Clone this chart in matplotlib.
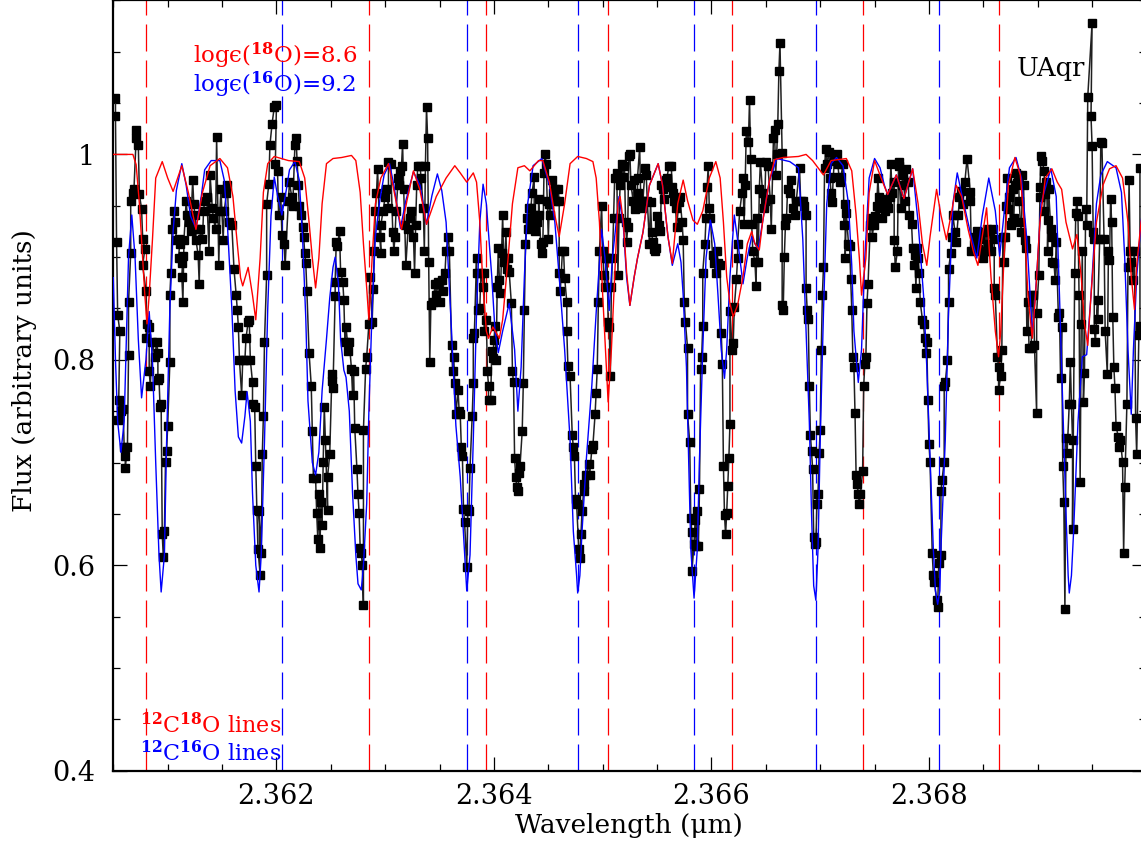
import numpy as np
import matplotlib
matplotlib.use("Agg")
import matplotlib.pyplot as plt
from matplotlib.ticker import MultipleLocator, FixedLocator, FixedFormatter

plt.rcParams['font.family'] = ['DejaVu Serif', 'DejaVu Sans']
plt.rcParams['mathtext.fontset'] = 'dejavuserif'

obs_wave_a = [2.36052, 2.36052, 2.36053, 2.36054, 2.36056, 2.36055, 2.36054, 2.36057, 2.36059, 2.36060,
              2.36061, 2.36061, 2.36063, 2.36064, 2.36064, 2.36066, 2.36066, 2.36068, 2.36069, 2.36071,
              2.36071, 2.36073, 2.36074, 2.36076, 2.36077, 2.36079, 2.36077, 2.36080, 2.36081, 2.36080,
              2.36083, 2.36083, 2.36084, 2.36086, 2.36088, 2.36090, 2.36091, 2.36091, 2.36092, 2.36093,
              2.36094, 2.36095, 2.36096, 2.36097, 2.36098, 2.36099, 2.36100, 2.36102, 2.36102, 2.36103,
              2.36104, 2.36106, 2.36107, 2.36108, 2.36110, 2.36111, 2.36110, 2.36113, 2.36114, 2.36113,
              2.36114, 2.36115, 2.36117, 2.36118, 2.36120, 2.36121, 2.36123, 2.36124, 2.36125, 2.36126,
              2.36126, 2.36128, 2.36129, 2.36130, 2.36132, 2.36133, 2.36134, 2.36136, 2.36138, 2.36139,
              2.36141, 2.36142, 2.36144, 2.36145, 2.36147, 2.36148, 2.36149, 2.36151, 2.36152, 2.36154,
              2.36155, 2.36156, 2.36159, 2.36161, 2.36163, 2.36164, 2.36165, 2.36166, 2.36168, 2.36169,
              2.36171, 2.36172, 2.36174, 2.36175, 2.36176, 2.36178, 2.36178, 2.36180, 2.36181, 2.36182,
              2.36183, 2.36185, 2.36184, 2.36186, 2.36187, 2.36188, 2.36189, 2.36191, 2.36191, 2.36193,
              2.36194, 2.36196, 2.36198, 2.36200, 2.36199, 2.36201, 2.36202, 2.36204, 2.36205, 2.36207,
              2.36208]
obs_flux_a = [1.055, 1.037, 0.915, 0.844, 0.828, 0.761, 0.741, 0.750, 0.752, 0.715,
              0.706, 0.695, 0.715, 0.805, 0.856, 0.904, 0.955, 0.962, 0.966, 1.016,
              1.024, 1.009, 0.961, 0.947, 0.918, 0.908, 0.892, 0.867, 0.835, 0.821,
              0.832, 0.789, 0.775, 0.817, 0.803, 0.817, 0.807, 0.780, 0.782, 0.754,
              0.757, 0.630, 0.608, 0.633, 0.701, 0.711, 0.736, 0.798, 0.863, 0.885,
              0.927, 0.945, 0.934, 0.917, 0.918, 0.913, 0.899, 0.894, 0.901, 0.881,
              0.856, 0.917, 0.955, 0.941, 0.934, 0.925, 0.975, 0.952, 0.941, 0.927,
              0.917, 0.902, 0.874, 0.927, 0.918, 0.945, 0.955, 0.959, 0.906, 0.980,
              0.948, 0.938, 0.927, 1.017, 0.892, 0.945, 0.966, 0.917, 0.945, 0.962,
              0.970, 0.934, 0.931, 0.888, 0.863, 0.849, 0.832, 0.800, 0.766, 0.800,
              0.800, 0.821, 0.837, 0.839, 0.800, 0.778, 0.757, 0.754, 0.697, 0.654,
              0.616, 0.591, 0.653, 0.612, 0.708, 0.745, 0.817, 0.883, 0.952, 0.971,
              1.009, 1.030, 1.046, 1.048, 0.991, 0.984, 0.941, 0.959, 0.922, 0.913,
              0.892]

obs_wave_b = [2.36211, 2.36212, 2.36214, 2.36215, 2.36217, 2.36218, 2.36219, 2.36220, 2.36221, 2.36223,
              2.36224, 2.36225, 2.36226, 2.36227, 2.36228, 2.36230, 2.36232, 2.36233, 2.36234, 2.36236,
              2.36237, 2.36238, 2.36239, 2.36240, 2.36241, 2.36242, 2.36243, 2.36244, 2.36245, 2.36247,
              2.36247, 2.36249, 2.36251, 2.36251, 2.36252, 2.36254, 2.36254, 2.36255, 2.36256, 2.36258,
              2.36259, 2.36261, 2.36262, 2.36263, 2.36264, 2.36266, 2.36267, 2.36269, 2.36270, 2.36271,
              2.36272, 2.36274, 2.36275, 2.36276, 2.36277, 2.36278, 2.36279, 2.36280, 2.36280, 2.36282,
              2.36283, 2.36285, 2.36286, 2.36288, 2.36289, 2.36290, 2.36291, 2.36292, 2.36293, 2.36295,
              2.36296, 2.36296, 2.36298, 2.36300, 2.36301, 2.36303, 2.36303, 2.36305, 2.36307, 2.36308,
              2.36309, 2.36310, 2.36312, 2.36313, 2.36314, 2.36315, 2.36316, 2.36317, 2.36318, 2.36319,
              2.36321, 2.36323, 2.36324, 2.36326, 2.36327, 2.36328, 2.36329, 2.36330, 2.36332, 2.36333,
              2.36335, 2.36336, 2.36337, 2.36338, 2.36339, 2.36340, 2.36341, 2.36342, 2.36344, 2.36346,
              2.36347, 2.36349, 2.36350, 2.36352, 2.36353, 2.36355, 2.36356, 2.36358, 2.36359, 2.36361,
              2.36362, 2.36363, 2.36364, 2.36365]
obs_flux_b = [0.955, 0.973, 0.959, 0.950, 1.009, 1.016, 0.994, 0.970, 0.950, 0.941,
              0.929, 0.920, 0.904, 0.894, 0.867, 0.807, 0.775, 0.731, 0.685, 0.685,
              0.651, 0.626, 0.669, 0.617, 0.662, 0.639, 0.701, 0.754, 0.722, 0.654,
              0.686, 0.708, 0.786, 0.779, 0.773, 0.862, 0.876, 0.915, 0.911, 0.925,
              0.886, 0.876, 0.858, 0.817, 0.832, 0.809, 0.817, 0.791, 0.766, 0.789,
              0.734, 0.694, 0.669, 0.651, 0.617, 0.612, 0.600, 0.561, 0.732, 0.791,
              0.803, 0.835, 0.881, 0.837, 0.869, 0.906, 0.945, 0.962, 0.986, 0.920,
              0.904, 0.931, 0.945, 0.959, 0.966, 0.948, 0.993, 0.991, 0.924, 0.906,
              0.920, 0.945, 0.977, 0.970, 0.984, 0.989, 1.010, 0.966, 0.931, 0.892,
              0.927, 0.938, 0.945, 0.920, 0.885, 0.931, 0.970, 0.989, 0.989, 0.977,
              0.948, 0.906, 0.989, 1.046, 1.016, 0.895, 0.798, 0.853, 0.856, 0.874,
              0.863, 0.876, 0.856, 0.878, 0.867, 0.885, 0.906, 0.920, 0.906, 0.814,
              0.789, 0.803, 0.777, 0.747]

obs_wave_c = [2.36367, 2.36368, 2.36369, 2.36370, 2.36371, 2.36372, 2.36373, 2.36375, 2.36376, 2.36377,
              2.36378, 2.36380, 2.36381, 2.36381, 2.36382, 2.36384, 2.36384, 2.36385, 2.36387, 2.36388,
              2.36390, 2.36391, 2.36391, 2.36393, 2.36394, 2.36395, 2.36395, 2.36397, 2.36398, 2.36399,
              2.36400, 2.36401, 2.36402, 2.36403, 2.36404, 2.36405, 2.36406, 2.36407, 2.36408, 2.36409,
              2.36410, 2.36411, 2.36412, 2.36413, 2.36414, 2.36416, 2.36417, 2.36418, 2.36419, 2.36420,
              2.36421, 2.36422, 2.36423, 2.36424, 2.36426, 2.36427, 2.36428, 2.36429, 2.36430, 2.36431,
              2.36432, 2.36434, 2.36434, 2.36435, 2.36437, 2.36437, 2.36438, 2.36440, 2.36441, 2.36441,
              2.36443, 2.36444, 2.36445, 2.36446, 2.36447, 2.36448, 2.36449, 2.36450, 2.36451, 2.36452,
              2.36453, 2.36454, 2.36456, 2.36457, 2.36459, 2.36460, 2.36460, 2.36461, 2.36463, 2.36464,
              2.36465, 2.36467, 2.36467, 2.36468, 2.36470, 2.36472, 2.36473, 2.36474, 2.36475, 2.36476,
              2.36478, 2.36479, 2.36480, 2.36481, 2.36483, 2.36483, 2.36485, 2.36487, 2.36488, 2.36490,
              2.36491, 2.36493, 2.36494, 2.36495, 2.36496, 2.36497, 2.36499, 2.36500, 2.36501, 2.36502,
              2.36503, 2.36504, 2.36505, 2.36506, 2.36507, 2.36508, 2.36509, 2.36510, 2.36511, 2.36513,
              2.36514, 2.36515, 2.36516, 2.36518, 2.36519, 2.36520, 2.36521, 2.36522]
obs_flux_c = [0.771, 0.750, 0.747, 0.715, 0.706, 0.655, 0.642, 0.598, 0.655, 0.653,
              0.695, 0.745, 0.777, 0.821, 0.826, 0.899, 0.885, 0.849, 0.850, 0.885,
              0.871, 0.885, 0.828, 0.839, 0.789, 0.775, 0.761, 0.761, 0.809, 0.802,
              0.819, 0.833, 0.800, 0.871, 0.909, 0.878, 0.865, 0.904, 0.941, 0.895,
              0.899, 0.924, 0.888, 0.899, 0.886, 0.855, 0.789, 0.778, 0.704, 0.686,
              0.676, 0.672, 0.690, 0.697, 0.731, 0.777, 0.849, 0.913, 0.938, 0.927,
              0.948, 0.934, 0.948, 0.962, 0.978, 0.941, 0.925, 0.934, 0.941, 0.957,
              0.913, 0.904, 0.915, 0.982, 1.000, 0.991, 0.955, 0.918, 0.952, 0.941,
              0.975, 0.962, 0.966, 0.955, 0.966, 0.955, 0.885, 0.867, 0.906, 0.906,
              0.880, 0.856, 0.828, 0.794, 0.784, 0.727, 0.715, 0.706, 0.665, 0.660,
              0.616, 0.607, 0.630, 0.653, 0.679, 0.672, 0.688, 0.699, 0.688, 0.713,
              0.717, 0.747, 0.768, 0.791, 0.856, 0.906, 0.950, 0.906, 0.883, 0.871,
              0.899, 0.899, 0.837, 0.832, 0.784, 0.871, 0.899, 0.938, 0.977, 0.982,
              0.883, 0.938, 0.970, 0.991, 0.978, 0.989, 0.934, 0.915]

obs_wave_d = [2.36523, 2.36524, 2.36525, 2.36526, 2.36528, 2.36529, 2.36530, 2.36532, 2.36532, 2.36534,
              2.36535, 2.36536, 2.36537, 2.36539, 2.36540, 2.36541, 2.36543, 2.36544, 2.36545, 2.36546,
              2.36547, 2.36548, 2.36549, 2.36550, 2.36552, 2.36553, 2.36554, 2.36555, 2.36556, 2.36558,
              2.36559, 2.36561, 2.36563, 2.36564, 2.36565, 2.36566, 2.36567, 2.36568, 2.36570, 2.36571,
              2.36573, 2.36574, 2.36575, 2.36576, 2.36578, 2.36578, 2.36580, 2.36581, 2.36582, 2.36582,
              2.36584, 2.36585, 2.36586, 2.36587, 2.36588, 2.36589, 2.36590, 2.36591, 2.36592, 2.36592,
              2.36594, 2.36595, 2.36596, 2.36597, 2.36598, 2.36599, 2.36601, 2.36602, 2.36604, 2.36605,
              2.36606, 2.36608, 2.36609, 2.36610, 2.36611, 2.36612, 2.36613, 2.36614, 2.36615, 2.36616,
              2.36617, 2.36617, 2.36619, 2.36620, 2.36621, 2.36623, 2.36624, 2.36624, 2.36626, 2.36628,
              2.36629, 2.36630, 2.36631, 2.36632, 2.36634, 2.36635, 2.36636, 2.36637, 2.36638, 2.36640,
              2.36641, 2.36642, 2.36643, 2.36644, 2.36645, 2.36647, 2.36648, 2.36649, 2.36650, 2.36652,
              2.36654, 2.36655, 2.36657, 2.36658, 2.36659, 2.36660, 2.36661, 2.36662, 2.36663, 2.36665,
              2.36665, 2.36666, 2.36667, 2.36668, 2.36669, 2.36670, 2.36672, 2.36673, 2.36675, 2.36677,
              2.36678]
obs_flux_d = [0.929, 0.998, 1.000, 0.970, 0.955, 0.975, 0.947, 0.962, 0.977, 1.007,
              0.955, 0.948, 0.955, 0.987, 0.980, 0.955, 0.913, 0.954, 0.924, 0.915,
              0.908, 0.906, 0.909, 0.940, 0.931, 0.925, 0.970, 0.966, 0.957, 0.975,
              0.977, 0.989, 0.989, 0.968, 0.962, 0.955, 0.948, 0.929, 0.954, 0.959,
              0.934, 0.917, 0.856, 0.837, 0.812, 0.747, 0.720, 0.646, 0.632, 0.594,
              0.621, 0.644, 0.619, 0.653, 0.619, 0.674, 0.791, 0.803, 0.833, 0.885,
              0.913, 0.938, 0.968, 0.989, 0.948, 0.938, 0.902, 0.894, 0.885, 0.906,
              0.894, 0.892, 0.826, 0.796, 0.697, 0.649, 0.630, 0.651, 0.677, 0.704,
              0.738, 0.848, 0.810, 0.816, 0.851, 0.879, 0.899, 0.913, 0.945, 0.962,
              0.977, 0.932, 0.970, 1.023, 1.012, 1.053, 0.996, 0.932, 0.906, 0.895,
              0.872, 0.938, 0.895, 0.966, 0.993, 0.962, 0.948, 0.955, 0.993, 0.989,
              0.957, 0.927, 1.016, 1.024, 0.980, 1.000, 1.030, 1.081, 1.108, 1.001,
              0.853, 0.849, 0.900, 0.931, 0.938, 0.966, 0.962, 0.975, 0.948, 0.941,
              0.955]

obs_wave_e = [2.36681, 2.36682, 2.36684, 2.36685, 2.36687, 2.36687, 2.36688, 2.36689, 2.36690, 2.36691,
              2.36692, 2.36693, 2.36694, 2.36695, 2.36696, 2.36697, 2.36698, 2.36699, 2.36700, 2.36701,
              2.36702, 2.36703, 2.36704, 2.36705, 2.36706, 2.36708, 2.36709, 2.36710, 2.36711, 2.36712,
              2.36713, 2.36715, 2.36716, 2.36718, 2.36719, 2.36721, 2.36722, 2.36723, 2.36723, 2.36724,
              2.36726, 2.36727, 2.36728, 2.36729, 2.36730, 2.36731, 2.36732, 2.36733, 2.36734, 2.36735,
              2.36736, 2.36737, 2.36739, 2.36740, 2.36741, 2.36742, 2.36743, 2.36744, 2.36746, 2.36747,
              2.36748, 2.36749, 2.36750, 2.36752, 2.36753, 2.36754, 2.36755, 2.36756, 2.36757, 2.36758,
              2.36760, 2.36761, 2.36762, 2.36764, 2.36765, 2.36766, 2.36768, 2.36768, 2.36769, 2.36771,
              2.36772, 2.36772, 2.36774, 2.36775, 2.36776, 2.36778, 2.36779, 2.36781, 2.36782, 2.36784,
              2.36785, 2.36786, 2.36787, 2.36788, 2.36789, 2.36790, 2.36791, 2.36792, 2.36794, 2.36795,
              2.36796, 2.36797, 2.36798, 2.36799, 2.36800, 2.36801, 2.36803, 2.36804, 2.36805, 2.36807,
              2.36808, 2.36809, 2.36811, 2.36811, 2.36812, 2.36814, 2.36814, 2.36815, 2.36817, 2.36818,
              2.36818, 2.36820, 2.36821, 2.36822, 2.36824, 2.36825, 2.36827, 2.36828, 2.36829, 2.36831,
              2.36833, 2.36835]
obs_flux_e = [0.987, 0.955, 0.955, 0.950, 0.941, 0.870, 0.849, 0.840, 0.775, 0.727,
              0.711, 0.694, 0.628, 0.621, 0.623, 0.660, 0.669, 0.709, 0.732, 0.810,
              0.863, 0.890, 0.987, 1.005, 0.991, 1.002, 0.977, 0.962, 0.954, 0.978,
              0.994, 1.000, 0.991, 0.973, 0.978, 0.991, 0.931, 0.952, 0.899, 0.943,
              0.913, 0.911, 0.879, 0.849, 0.803, 0.793, 0.748, 0.688, 0.679, 0.669,
              0.660, 0.669, 0.692, 0.775, 0.796, 0.803, 0.855, 0.874, 0.931, 0.938,
              0.920, 0.931, 0.940, 0.950, 0.977, 0.959, 0.948, 0.957, 0.938, 0.955,
              0.945, 0.950, 0.948, 0.959, 0.991, 0.962, 0.973, 0.917, 0.890, 0.906,
              0.993, 0.989, 0.948, 0.970, 0.980, 0.955, 0.986, 0.973, 0.941, 0.932,
              0.909, 0.892, 0.902, 0.870, 0.909, 0.899, 0.885, 0.856, 0.839, 0.835,
              0.821, 0.807, 0.817, 0.761, 0.718, 0.701, 0.612, 0.591, 0.584, 0.566,
              0.559, 0.602, 0.610, 0.672, 0.683, 0.701, 0.775, 0.778, 0.800, 0.856,
              0.888, 0.904, 0.920, 0.941, 0.924, 0.915, 0.941, 0.959, 0.964, 0.952,
              0.973, 0.996]

obs_wave_f = [2.36838, 2.36838, 2.36839, 2.36841, 2.36842, 2.36844, 2.36844, 2.36845, 2.36847, 2.36848,
              2.36850, 2.36851, 2.36852, 2.36853, 2.36854, 2.36856, 2.36857, 2.36859, 2.36860, 2.36860,
              2.36861, 2.36863, 2.36864, 2.36864, 2.36866, 2.36867, 2.36868, 2.36869, 2.36870, 2.36871,
              2.36872, 2.36873, 2.36874, 2.36875, 2.36876, 2.36877, 2.36878, 2.36879, 2.36880, 2.36881,
              2.36882, 2.36883, 2.36884, 2.36885, 2.36886, 2.36887, 2.36888, 2.36889, 2.36890, 2.36891,
              2.36892, 2.36894, 2.36895, 2.36896, 2.36897, 2.36899, 2.36899, 2.36901, 2.36902, 2.36902,
              2.36903, 2.36904, 2.36906, 2.36906, 2.36907, 2.36908, 2.36909, 2.36909, 2.36910, 2.36912,
              2.36913, 2.36913, 2.36915, 2.36916, 2.36917, 2.36919, 2.36920, 2.36921, 2.36922, 2.36923,
              2.36924, 2.36925, 2.36926, 2.36927, 2.36929, 2.36930, 2.36931, 2.36932, 2.36932, 2.36934,
              2.36935, 2.36936, 2.36937, 2.36938, 2.36939, 2.36940, 2.36941, 2.36942, 2.36943, 2.36944,
              2.36945, 2.36946, 2.36950, 2.36949, 2.36950, 2.36951, 2.36952, 2.36952, 2.36953, 2.36955,
              2.36955, 2.36957, 2.36958, 2.36959, 2.36961, 2.36962, 2.36964, 2.36965, 2.36966, 2.36967,
              2.36968, 2.36969, 2.36970, 2.36971, 2.36972, 2.36974, 2.36975, 2.36976, 2.36978, 2.36979,
              2.36980, 2.36982, 2.36983, 2.36984, 2.36985, 2.36986, 2.36988, 2.36989, 2.36990, 2.36991,
              2.36993, 2.36994, 2.36994]
obs_flux_f = [0.963, 0.955, 0.906, 0.913, 0.920, 0.925, 0.913, 0.908, 0.918, 0.906,
              0.899, 0.924, 0.906, 0.927, 0.913, 0.925, 0.906, 0.927, 0.918, 0.870,
              0.863, 0.803, 0.793, 0.771, 0.784, 0.810, 0.920, 0.895, 0.920, 0.950,
              0.977, 0.947, 0.959, 0.931, 0.934, 0.966, 0.938, 0.970, 0.982, 0.972,
              0.980, 0.955, 0.934, 0.924, 0.980, 0.970, 0.917, 0.909, 0.828, 0.856,
              0.812, 0.812, 0.863, 0.863, 0.814, 0.748, 0.846, 0.883, 0.959, 0.968,
              0.998, 0.994, 0.984, 0.945, 0.961, 0.973, 0.936, 0.906, 0.966, 0.927,
              0.920, 0.895, 0.894, 0.878, 0.915, 0.842, 0.846, 0.782, 0.832, 0.697,
              0.662, 0.557, 0.724, 0.709, 0.757, 0.798, 0.757, 0.722, 0.635, 0.885,
              0.943, 0.955, 0.940, 0.863, 0.681, 0.835, 0.906, 0.759, 0.787, 0.947,
              0.931, 1.056, 1.128, 1.037, 1.008, 0.924, 0.918, 0.830, 0.817, 0.858,
              0.840, 0.918, 1.012, 1.011, 0.918, 0.828, 0.786, 0.906, 0.897, 0.957,
              0.934, 0.842, 0.793, 0.773, 0.736, 0.725, 0.715, 0.722, 0.701, 0.612,
              0.676, 0.757, 0.890, 0.975, 0.906, 0.895, 0.878, 0.906, 0.743, 0.708,
              0.824, 0.833, 0.987]

# ---- synthetic spectrum with log eps(16O)=9.2 (blue) ----
blue_wave = [2.36050, 2.36052, 2.36054, 2.36057, 2.36060, 2.36062, 2.36064, 2.36067, 2.36070, 2.36073,
             2.36076, 2.36080, 2.36083, 2.36086, 2.36089, 2.36092, 2.36094, 2.36097, 2.36099, 2.36102,
             2.36105, 2.36108, 2.36113, 2.36117, 2.36121, 2.36126, 2.36131, 2.36134, 2.36140, 2.36148,
             2.36152, 2.36155, 2.36159, 2.36162, 2.36165, 2.36168, 2.36171, 2.36173, 2.36176, 2.36178,
             2.36181, 2.36184, 2.36186, 2.36189, 2.36192, 2.36195, 2.36198, 2.36201, 2.36205, 2.36209,
             2.36212, 2.36217, 2.36221, 2.36224, 2.36227, 2.36229, 2.36233, 2.36236, 2.36239, 2.36242,
             2.36246, 2.36249, 2.36252, 2.36254, 2.36257, 2.36259, 2.36262, 2.36264, 2.36267, 2.36270,
             2.36273, 2.36275, 2.36278, 2.36280, 2.36283, 2.36285, 2.36288, 2.36291, 2.36295, 2.36299,
             2.36304, 2.36308, 2.36314, 2.36319, 2.36326, 2.36332, 2.36338, 2.36343, 2.36348, 2.36352,
             2.36356, 2.36361, 2.36365, 2.36369, 2.36372, 2.36375, 2.36378, 2.36381, 2.36384, 2.36387,
             2.36390, 2.36393, 2.36398, 2.36401, 2.36404, 2.36408, 2.36414, 2.36419, 2.36422, 2.36425,
             2.36428, 2.36431, 2.36436, 2.36444, 2.36451, 2.36456, 2.36460, 2.36465, 2.36470, 2.36473,
             2.36476, 2.36477, 2.36479, 2.36481, 2.36485, 2.36490, 2.36494, 2.36499, 2.36502, 2.36506,
             2.36509, 2.36515, 2.36519, 2.36522, 2.36525, 2.36529, 2.36532, 2.36537, 2.36543, 2.36551,
             2.36555, 2.36560, 2.36564, 2.36569, 2.36572, 2.36574, 2.36577, 2.36579, 2.36581, 2.36584,
             2.36587, 2.36589, 2.36592, 2.36595, 2.36599, 2.36603, 2.36606, 2.36609, 2.36612, 2.36614,
             2.36617, 2.36621, 2.36624, 2.36629, 2.36633, 2.36637, 2.36640, 2.36643, 2.36647, 2.36653,
             2.36660, 2.36672, 2.36680, 2.36684, 2.36687, 2.36690, 2.36692, 2.36694, 2.36696, 2.36698,
             2.36700, 2.36703, 2.36706, 2.36710, 2.36715, 2.36721, 2.36726, 2.36729, 2.36731, 2.36735,
             2.36738, 2.36741, 2.36745, 2.36750, 2.36755, 2.36759, 2.36762, 2.36770, 2.36777, 2.36785,
             2.36790, 2.36795, 2.36798, 2.36801, 2.36804, 2.36806, 2.36808, 2.36810, 2.36811, 2.36815,
             2.36818, 2.36822, 2.36826, 2.36831, 2.36838, 2.36844, 2.36849, 2.36855, 2.36861, 2.36865,
             2.36870, 2.36874, 2.36880, 2.36885, 2.36890, 2.36893, 2.36895, 2.36899, 2.36903, 2.36912,
             2.36917, 2.36920, 2.36923, 2.36926, 2.36928, 2.36929, 2.36931, 2.36933, 2.36937, 2.36941,
             2.36945, 2.36949, 2.36954, 2.36958, 2.36964, 2.36972, 2.36977, 2.36980, 2.36983, 2.36986,
             2.36988, 2.36991, 2.36995, 2.37000]
blue_flux = [0.880, 0.800, 0.740, 0.710, 0.740, 0.820, 0.900, 0.941, 0.900, 0.820,
             0.763, 0.800, 0.847, 0.800, 0.700, 0.610, 0.574, 0.610, 0.720, 0.850,
             0.925, 0.965, 0.991, 0.970, 0.940, 0.928, 0.960, 0.985, 0.994, 0.994,
             0.975, 0.930, 0.850, 0.770, 0.725, 0.719, 0.745, 0.769, 0.740, 0.670,
             0.600, 0.574, 0.610, 0.720, 0.850, 0.940, 0.978, 0.960, 0.941, 0.965,
             0.985, 0.993, 0.975, 0.920, 0.840, 0.760, 0.700, 0.688, 0.710, 0.770,
             0.820, 0.860, 0.890, 0.900, 0.875, 0.820, 0.790, 0.783, 0.750, 0.670,
             0.610, 0.582, 0.576, 0.600, 0.660, 0.750, 0.850, 0.920, 0.955, 0.980,
             0.991, 0.970, 0.928, 0.955, 0.983, 0.970, 0.932, 0.960, 0.981, 0.965,
             0.934, 0.828, 0.736, 0.686, 0.630, 0.575, 0.610, 0.722, 0.846, 0.934,
             0.971, 0.952, 0.881, 0.828, 0.807, 0.828, 0.855, 0.810, 0.750, 0.793,
             0.881, 0.952, 0.989, 0.996, 0.970, 0.934, 0.881, 0.810, 0.722, 0.633,
             0.590, 0.573, 0.590, 0.633, 0.704, 0.775, 0.846, 0.927, 0.900, 0.848,
             0.900, 0.959, 0.930, 0.880, 0.853, 0.881, 0.899, 0.924, 0.970, 0.991,
             0.970, 0.920, 0.892, 0.913, 0.895, 0.863, 0.793, 0.704, 0.616, 0.568,
             0.616, 0.704, 0.810, 0.899, 0.936, 0.913, 0.863, 0.810, 0.782, 0.810,
             0.881, 0.941, 0.917, 0.874, 0.900, 0.920, 0.913, 0.908, 0.934, 0.973,
             0.996, 0.993, 0.987, 0.917, 0.828, 0.739, 0.651, 0.580, 0.566, 0.616,
             0.722, 0.846, 0.952, 0.991, 0.997, 0.989, 0.952, 0.892, 0.828, 0.778,
             0.810, 0.899, 0.977, 0.996, 0.987, 0.970, 0.961, 0.980, 0.957, 0.986,
             0.934, 0.863, 0.793, 0.704, 0.616, 0.575, 0.562, 0.575, 0.616, 0.722,
             0.846, 0.952, 0.982, 0.957, 0.924, 0.899, 0.940, 0.977, 0.945, 0.901,
             0.952, 0.987, 0.997, 0.977, 0.917, 0.863, 0.824, 0.881, 0.952, 0.986,
             0.959, 0.863, 0.757, 0.651, 0.590, 0.573, 0.590, 0.633, 0.739, 0.803,
             0.805, 0.863, 0.952, 0.980, 0.993, 0.987, 0.963, 0.899, 0.810, 0.747,
             0.810, 0.881, 0.934, 0.970]

# ---- synthetic spectrum with log eps(18O)=8.6 (red) ----
red_wave = [2.36050, 2.36068, 2.36071, 2.36074, 2.36077, 2.36079, 2.36081, 2.36083, 2.36086, 2.36089,
            2.36095, 2.36100, 2.36105, 2.36113, 2.36119, 2.36126, 2.36132, 2.36139, 2.36148, 2.36155,
            2.36160, 2.36164, 2.36167, 2.36169, 2.36174, 2.36178, 2.36181, 2.36185, 2.36188, 2.36192,
            2.36198, 2.36211, 2.36221, 2.36226, 2.36230, 2.36233, 2.36236, 2.36239, 2.36242, 2.36246,
            2.36252, 2.36260, 2.36269, 2.36273, 2.36277, 2.36280, 2.36283, 2.36285, 2.36288, 2.36291,
            2.36296, 2.36303, 2.36308, 2.36315, 2.36320, 2.36326, 2.36332, 2.36338, 2.36347, 2.36356,
            2.36364, 2.36369, 2.36375, 2.36381, 2.36384, 2.36387, 2.36390, 2.36393, 2.36395, 2.36399,
            2.36405, 2.36408, 2.36413, 2.36417, 2.36422, 2.36428, 2.36433, 2.36441, 2.36445, 2.36451,
            2.36456, 2.36460, 2.36465, 2.36470, 2.36477, 2.36485, 2.36491, 2.36494, 2.36497, 2.36500,
            2.36503, 2.36505, 2.36508, 2.36511, 2.36514, 2.36516, 2.36519, 2.36522, 2.36525, 2.36529,
            2.36532, 2.36537, 2.36543, 2.36551, 2.36555, 2.36560, 2.36564, 2.36569, 2.36574, 2.36578,
            2.36583, 2.36587, 2.36592, 2.36598, 2.36604, 2.36608, 2.36611, 2.36614, 2.36617, 2.36620,
            2.36624, 2.36629, 2.36633, 2.36637, 2.36640, 2.36644, 2.36647, 2.36653, 2.36658, 2.36666,
            2.36680, 2.36687, 2.36693, 2.36703, 2.36710, 2.36724, 2.36729, 2.36733, 2.36736, 2.36738,
            2.36742, 2.36745, 2.36750, 2.36756, 2.36762, 2.36770, 2.36777, 2.36785, 2.36790, 2.36794,
            2.36798, 2.36801, 2.36807, 2.36811, 2.36816, 2.36821, 2.36825, 2.36830, 2.36836, 2.36841,
            2.36845, 2.36849, 2.36853, 2.36857, 2.36861, 2.36864, 2.36866, 2.36869, 2.36873, 2.36879,
            2.36884, 2.36888, 2.36891, 2.36895, 2.36898, 2.36902, 2.36907, 2.36913, 2.36918, 2.36922,
            2.36926, 2.36932, 2.36936, 2.36940, 2.36943, 2.36946, 2.36949, 2.36954, 2.36960, 2.36966,
            2.36972, 2.36978, 2.36983, 2.36986, 2.36989, 2.36991, 2.36995, 2.37000]
red_flux = [1.000, 1.000, 0.990, 0.952, 0.899, 0.863, 0.835, 0.863, 0.917, 0.977,
            0.993, 0.977, 0.964, 0.989, 0.963, 0.927, 0.963, 0.989, 0.996, 0.987,
            0.959, 0.913, 0.880, 0.872, 0.890, 0.863, 0.839, 0.899, 0.963, 0.991,
            0.998, 0.994, 0.993, 0.977, 0.934, 0.899, 0.870, 0.899, 0.952, 0.991,
            0.996, 0.997, 0.999, 0.994, 0.963, 0.913, 0.870, 0.839, 0.899, 0.952,
            0.977, 0.991, 0.965, 0.927, 0.955, 0.984, 0.965, 0.932, 0.959, 0.977,
            0.989, 0.982, 0.973, 0.982, 0.973, 0.934, 0.870, 0.828, 0.821, 0.832,
            0.821, 0.839, 0.899, 0.952, 0.987, 0.989, 0.984, 0.994, 0.994, 0.973,
            0.941, 0.920, 0.952, 0.991, 0.998, 0.996, 0.993, 0.977, 0.934, 0.863,
            0.800, 0.759, 0.810, 0.881, 0.952, 0.959, 0.934, 0.885, 0.853, 0.881,
            0.899, 0.924, 0.970, 0.991, 0.970, 0.920, 0.894, 0.952, 0.975, 0.955,
            0.936, 0.932, 0.945, 0.977, 0.993, 0.977, 0.934, 0.881, 0.855, 0.842,
            0.853, 0.881, 0.913, 0.925, 0.913, 0.907, 0.934, 0.973, 0.995, 0.997,
            0.998, 1.000, 0.994, 0.980, 0.994, 0.996, 0.984, 0.941, 0.899, 0.863,
            0.899, 0.963, 0.994, 0.977, 0.961, 0.980, 0.957, 0.986, 0.952, 0.913,
            0.892, 0.920, 0.966, 0.941, 0.917, 0.945, 0.970, 0.959, 0.927, 0.905,
            0.892, 0.920, 0.948, 0.881, 0.828, 0.803, 0.828, 0.899, 0.970, 0.997,
            0.980, 0.927, 0.863, 0.821, 0.863, 0.934, 0.977, 0.986, 0.973, 0.966,
            0.934, 0.908, 0.922, 0.881, 0.835, 0.814, 0.863, 0.934, 0.970, 0.986,
            0.989, 0.977, 0.934, 0.881, 0.849, 0.892, 0.934, 0.960]

# line positions
c18o_lines = [2.36080, 2.36285, 2.36393, 2.36505, 2.36619, 2.36739, 2.36864]
c16o_lines = [2.36205, 2.36375, 2.36477, 2.36584, 2.36696, 2.36809]

y_ticks = [0.4, 0.6, 0.8, 1.0]
y_tick_labels = ['0.4', '0.6', '0.8', '1']
x_ticks = [2.362, 2.364, 2.366, 2.368]
x_tick_labels = ['2.362', '2.364', '2.366', '2.368']


def paired(w, f):
    n = min(len(w), len(f))
    return w[:n], f[:n]


segments = [paired(obs_wave_a, obs_flux_a), paired(obs_wave_b, obs_flux_b),
            paired(obs_wave_c, obs_flux_c), paired(obs_wave_d, obs_flux_d),
            paired(obs_wave_e, obs_flux_e), paired(obs_wave_f, obs_flux_f)]
obs_wave = np.concatenate([np.array(s[0]) for s in segments])
obs_flux = np.concatenate([np.array(s[1]) for s in segments])
bw, bf = paired(blue_wave, blue_flux)
rw, rf = paired(red_wave, red_flux)

fig = plt.figure(figsize=(11.41, 8.46), dpi=100)
ax = fig.add_axes([0.0993, 0.0890, 0.9055, 0.9106])

for w in c18o_lines:
    ax.axvline(w, color='red', lw=0.9, dashes=(21.6, 7.2), zorder=1)
for w in c16o_lines:
    ax.axvline(w, color='blue', lw=0.9, dashes=(21.6, 7.2), zorder=1)

ax.plot(obs_wave, obs_flux, color='#202020', lw=1.1, marker='s', ms=5.2,
        mec='black', mfc='black', zorder=2)
ax.plot(bw, bf, color='blue', lw=1.0, zorder=3)
ax.plot(rw, rf, color='red', lw=1.0, zorder=4)

ax.set_xlim(2.3605, 2.3700)
ax.set_ylim(0.4, 1.15)

ax.xaxis.set_major_locator(FixedLocator(x_ticks))
ax.xaxis.set_major_formatter(FixedFormatter(x_tick_labels))
ax.xaxis.set_minor_locator(MultipleLocator(0.0005))
ax.yaxis.set_major_locator(FixedLocator(y_ticks))
ax.yaxis.set_major_formatter(FixedFormatter(y_tick_labels))
ax.yaxis.set_minor_locator(MultipleLocator(0.05))

ax.tick_params(which='both', direction='in', top=True, right=True, width=0.9)
ax.tick_params(which='major', length=10)
ax.tick_params(which='minor', length=5)
ax.tick_params(axis='x', which='major', pad=8.5, labelsize=19.5)
ax.tick_params(axis='y', which='major', pad=13, labelsize=19.5)
for sp in ax.spines.values():
    sp.set_linewidth(1.6)

ax.set_xlabel('Wavelength (μm)', fontsize=19, va='center')
ax.xaxis.set_label_coords(0.4992, -0.0705)
ax.set_ylabel('Flux (arbitrary units)', fontsize=19, va='center', ha='center')
ax.yaxis.set_label_coords(-0.0855, 0.5188)

ax.text(0.0771, 0.918, r'logϵ($^{\mathbf{18}}$O)=8.6', color='red', fontsize=16.5,
        transform=ax.transAxes, ha='left', va='baseline')
ax.text(0.0771, 0.8813, r'logϵ($^{\mathbf{16}}$O)=9.2', color='blue', fontsize=16.5,
        transform=ax.transAxes, ha='left', va='baseline')
ax.text(0.8745, 0.9017, 'UAqr', color='black', fontsize=18.5,
        transform=ax.transAxes, ha='left', va='baseline')
ax.text(0.0258, 0.0485, r'$^{\mathbf{12}}$C$^{\mathbf{18}}$O lines', color='red', fontsize=16,
        transform=ax.transAxes, ha='left', va='baseline')
ax.text(0.0258, 0.0117, r'$^{\mathbf{12}}$C$^{\mathbf{16}}$O lines', color='blue', fontsize=16,
        transform=ax.transAxes, ha='left', va='baseline')

fig.savefig('out.png', dpi=100)
